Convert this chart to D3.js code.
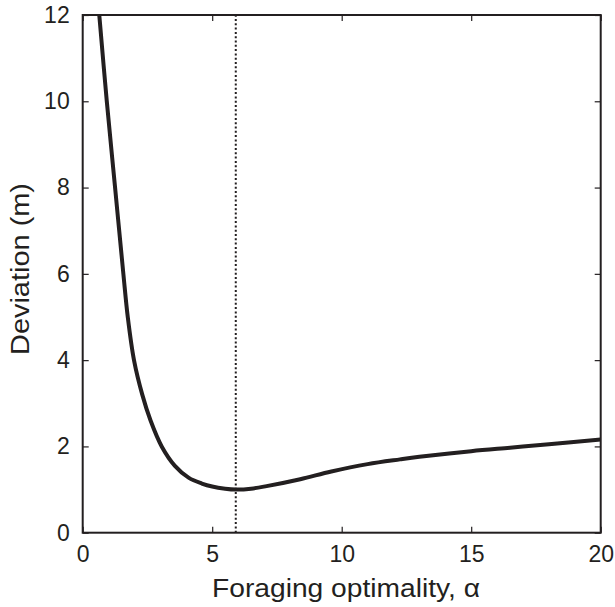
<!DOCTYPE html>
<html>
<head>
<meta charset="utf-8">
<script src="https://cdn.jsdelivr.net/npm/d3@7"></script>
<style>
  html, body { margin: 0; padding: 0; background: #fff; }
  svg { display: block; font-family: "Liberation Sans", Arial, sans-serif; }
  .tick text { font-size: 23px; }
</style>
</head>
<body>
<svg id="chart" width="615" height="607"></svg>
<script>
// Foraging optimality (alpha) and the resulting deviation (m)
const alphaValues = [0.64, 0.93, 1.25, 1.57, 1.74, 1.98, 2.3, 2.62, 3.05, 3.56, 4.1, 4.6, 5.0, 5.5, 5.91, 6.5, 7.1, 8.4, 9.6, 11.0, 12.25, 13.0, 15.0, 16.5, 18.0, 20.0];
const deviationValues = [12, 10, 8, 6, 5, 4, 3.2, 2.6, 2.0, 1.55, 1.27, 1.14, 1.07, 1.02, 1.0, 1.02, 1.08, 1.24, 1.42, 1.59, 1.70, 1.76, 1.89, 1.97, 2.05, 2.16];
const optimumAlpha = 5.91;
const xTicks = [0, 5, 10, 15, 20];
const yTicks = [0, 2, 4, 6, 8, 10, 12];
const xDomain = [0, 20];
const yDomain = [0, 12];
const xTitle = "Foraging optimality, α";
const yTitle = "Deviation (m)";

const ink = "#231f20";
const svg = d3.select("#chart");
const margin = { left: 82.7, right: 14.3, top: 15, bottom: 74.3 };
const W = 615, H = 607;
const x = d3.scaleLinear().domain(xDomain).range([margin.left, W - margin.right]);
const y = d3.scaleLinear().domain(yDomain).range([H - margin.bottom, margin.top]);

svg.append("defs").append("clipPath").attr("id", "plot-clip")
  .append("rect")
  .attr("x", x(xDomain[0])).attr("y", y(yDomain[1]))
  .attr("width", x(xDomain[1]) - x(xDomain[0]))
  .attr("height", y(yDomain[0]) - y(yDomain[1]));

const tickLen = 6;
const axisStyle = g => {
  g.attr("font-size", 23).attr("font-family", null);
  g.select(".domain").remove();
  g.selectAll(".tick line").attr("stroke", ink).attr("stroke-width", 1.2);
  g.selectAll(".tick text").attr("fill", ink).attr("font-size", 23);
};

// Bottom axis with inward ticks
svg.append("g")
  .attr("transform", `translate(0,${y(0)})`)
  .call(d3.axisBottom(x).tickValues(xTicks).tickFormat(d3.format("d")).tickSizeInner(-tickLen).tickSizeOuter(0).tickPadding(12))
  .call(axisStyle)
  .call(g => g.selectAll(".tick text").attr("y", 29).attr("dy", null));

// Top axis mirrored ticks (no labels)
svg.append("g")
  .attr("transform", `translate(0,${y(12)})`)
  .call(d3.axisTop(x).tickValues(xTicks).tickFormat("").tickSizeInner(-tickLen).tickSizeOuter(0))
  .call(axisStyle);

// Left axis with inward ticks
svg.append("g")
  .attr("transform", `translate(${x(0)},0)`)
  .call(d3.axisLeft(y).tickValues(yTicks).tickFormat(d3.format("d")).tickSizeInner(-tickLen).tickSizeOuter(0).tickPadding(13))
  .call(axisStyle);

// Right axis mirrored ticks (no labels)
svg.append("g")
  .attr("transform", `translate(${x(20)},0)`)
  .call(d3.axisRight(y).tickValues(yTicks).tickFormat("").tickSizeInner(-tickLen).tickSizeOuter(0))
  .call(axisStyle);

// Plot frame
svg.append("rect")
  .attr("x", x(xDomain[0])).attr("y", y(yDomain[1]))
  .attr("width", x(xDomain[1]) - x(xDomain[0]))
  .attr("height", y(yDomain[0]) - y(yDomain[1]))
  .attr("fill", "none").attr("stroke", ink).attr("stroke-width", 2);

// Dotted marker at the optimum
svg.append("line")
  .attr("x1", x(optimumAlpha)).attr("x2", x(optimumAlpha))
  .attr("y1", y(yDomain[0])).attr("y2", y(yDomain[1]))
  .attr("stroke", ink).attr("stroke-width", 2)
  .attr("stroke-dasharray", "2,2.3");

// Deviation curve
const points = alphaValues.map((a, i) => [a, deviationValues[i]]);
const line = d3.line().x(d => x(d[0])).y(d => y(d[1])).curve(d3.curveCatmullRom.alpha(0.5));
svg.append("path")
  .datum(points)
  .attr("clip-path", "url(#plot-clip)")
  .attr("d", line)
  .attr("fill", "none")
  .attr("stroke", ink)
  .attr("stroke-width", 4)
  .attr("stroke-linejoin", "round");

// Axis titles
svg.append("text")
  .attr("x", 346).attr("y", 597)
  .attr("text-anchor", "middle")
  .attr("textLength", 268).attr("lengthAdjust", "spacingAndGlyphs")
  .attr("fill", ink).style("font-size", "25px")
  .text(xTitle);

svg.append("text")
  .attr("transform", `translate(29,269) rotate(-90)`)
  .attr("text-anchor", "middle")
  .attr("textLength", 172).attr("lengthAdjust", "spacingAndGlyphs")
  .attr("fill", ink).style("font-size", "25px")
  .text(yTitle);
</script>
</body>
</html>
